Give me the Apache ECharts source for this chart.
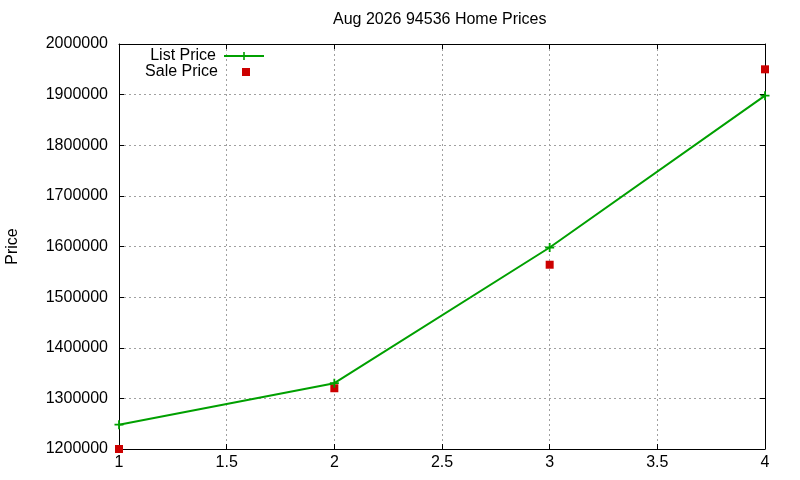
<!DOCTYPE html>
<html>
<head>
<meta charset="utf-8">
<script src="https://cdn.jsdelivr.net/npm/echarts@6/dist/echarts.min.js"></script>
<style>
  html, body { margin: 0; padding: 0; background: #fff; }
  #chart { width: 800px; height: 480px; }
</style>
</head>
<body>
<div id="chart"></div>
<script>
// values
var xValues = [1, 2, 3, 4];
var listPrice = [1248000, 1330000, 1598000, 1898000];
var salePrice = [1200000, 1320000, 1564000, 1950000];
var chartTitle = 'Aug 2026 94536 Home Prices';

var font = '"Liberation Sans", Arial, sans-serif';

var pairs = function(xs, ys) {
    return xs.map(function(x, i) { return [x, ys[i]]; });
};

// gnuplot style "+" point
var plusPath = 'path://M4,0H6V4H10V6H6V10H4V6H0V4H4Z';

var sideAxis = function(pos) {
    return {
        type: 'value',
        position: pos,
        axisLine: { show: true, lineStyle: { color: '#000', width: 1 } },
        axisTick: { show: true, inside: true, length: 5, lineStyle: { color: '#000' } },
        axisLabel: { show: false },
        splitLine: { show: false }
    };
};

var chart = echarts.init(document.getElementById('chart'), null, { renderer: 'canvas' });

var option = {
    backgroundColor: '#fff',
    animation: false,
    textStyle: { fontFamily: font },
    title: {
        text: chartTitle,
        left: 333,
        top: 12,
        padding: 0,
        textStyle: { fontFamily: font, fontSize: 16, fontWeight: 'normal', color: '#000' }
    },
    legend: [{
        data: ['List Price'],
        right: 535,
        top: 48,
        padding: 0,
        align: 'right',
        itemWidth: 40,
        itemHeight: 10,
        selectedMode: false,
        textStyle: { fontFamily: font, fontSize: 16, color: '#000', padding: [0, 3, 0, 0] }
    }, {
        data: ['Sale Price'],
        right: 550,
        top: 64,
        padding: 0,
        align: 'right',
        itemWidth: 8,
        itemHeight: 8,
        selectedMode: false,
        textStyle: { fontFamily: font, fontSize: 16, color: '#000', padding: [0, 19, 0, 0] }
    }],
    grid: { left: 119, right: 35, top: 44, bottom: 31, containLabel: false, outerBoundsMode: 'none' },
    xAxis: [{
        type: 'value',
        min: 1,
        max: 4,
        interval: 0.5,
        position: 'bottom',
        axisLine: { show: true, lineStyle: { color: '#000', width: 1 } },
        axisTick: { show: true, inside: true, length: 5, lineStyle: { color: '#000' } },
        axisLabel: { color: '#000', fontSize: 16, fontFamily: font, margin: 6 },
        splitLine: { show: true, lineStyle: { color: '#a0a0a0', width: 1, type: [2, 3] } }
    }, Object.assign(sideAxis('top'), { min: 1, max: 4, interval: 0.5 })],
    yAxis: [{
        type: 'value',
        min: 1200000,
        max: 2000000,
        interval: 100000,
        position: 'left',
        name: 'Price',
        nameLocation: 'middle',
        nameRotate: 90,
        nameGap: 98,
        nameTextStyle: { color: '#000', fontSize: 16, fontFamily: font },
        axisLine: { show: true, lineStyle: { color: '#000', width: 1 } },
        axisTick: { show: true, inside: true, length: 5, lineStyle: { color: '#000' } },
        axisLabel: {
            color: '#000', fontSize: 16, fontFamily: font, margin: 11,
            formatter: function(v) { return String(v); }
        },
        splitLine: { show: true, lineStyle: { color: '#a0a0a0', width: 1, type: [2, 3] } }
    }, Object.assign(sideAxis('right'), { min: 1200000, max: 2000000, interval: 100000 })],
    series: [{
        name: 'List Price',
        type: 'line',
        data: pairs(xValues, listPrice),
        symbol: plusPath,
        symbolSize: 9,
        showSymbol: true,
        lineStyle: { color: '#00a000', width: 2 },
        itemStyle: { color: '#00a000' }
    }, {
        name: 'Sale Price',
        type: 'scatter',
        data: pairs(xValues, salePrice),
        symbol: 'rect',
        symbolSize: 8,
        itemStyle: { color: '#cc0000', opacity: 1 }
    }]
};

chart.setOption(option);
</script>
</body>
</html>
